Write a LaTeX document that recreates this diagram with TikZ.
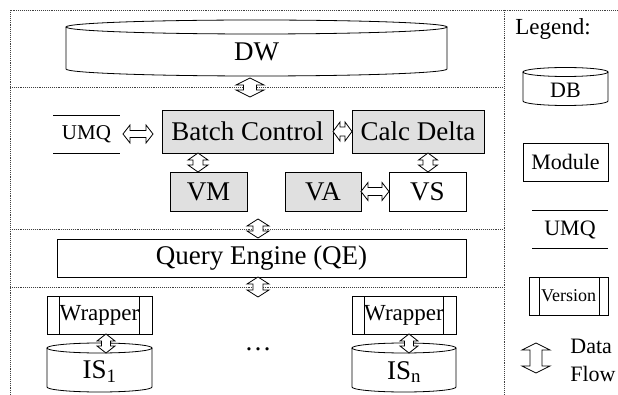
\documentclass[tikz,border=0pt]{standalone}
\usepackage{fontspec}
\setmainfont{Liberation Serif}
\usetikzlibrary{calc}
% hollow double-headed data-flow arrow from #1 to #2, head half-width #3, shaft half-width #4
\newcommand\dflow[4]{%
  \draw[fill=white,line join=miter]
   (#1) -- ($(#1)!7pt!(#2)!#3!90:(#2)$) -- ($(#1)!7pt!(#2)!#4!90:(#2)$)
   -- ($(#2)!7pt!(#1)!#4!-90:(#1)$) -- ($(#2)!7pt!(#1)!#3!-90:(#1)$)
   -- (#2) -- ($(#2)!7pt!(#1)!#3!90:(#1)$) -- ($(#2)!7pt!(#1)!#4!90:(#1)$)
   -- ($(#1)!7pt!(#2)!#4!-90:(#2)$) -- ($(#1)!7pt!(#2)!#3!-90:(#2)$) -- cycle;}
% cylinder: x1, x2, y of top ellipse centre, y of bottom ellipse centre, ry
\newcommand\cylshape[5]{%
  \draw[fill=white] (#1,#3) -- (#1,#4) arc[start angle=180,end angle=0,x radius={(#2-#1)/2},y radius=#5] -- (#2,#3);
  \draw ({(#1+#2)/2},#3) ellipse[x radius={(#2-#1)/2}, y radius=#5];}
\begin{document}
\begin{tikzpicture}[x=1pt,y=-1pt,line width=0.8pt,
  every node/.style={inner sep=0pt,outer sep=0pt},
  big/.style={font=\fontsize{27}{29}\selectfont},
  mid/.style={font=\fontsize{23}{26}\selectfont},
  leg/.style={font=\fontsize{22}{28}\selectfont},
  box/.style={draw,fill=white},
  shaded/.style={draw,fill=black!12},
  frame/.style={densely dotted,line width=0.9pt,black!75}]
\useasboundingbox (0,0) rectangle (618,395);

% frame and layer separators
\draw[frame] (10,395) -- (10,10) -- (618,10);
\draw[frame] (504,10) -- (504,395);
\draw[frame] (10,87) -- (504,87);
\draw[frame] (10,229) -- (504,229);
\draw[frame] (10,287) -- (504,287);

% DW
\cylshape{66}{447}{27}{69}{7}
\node[big] (dw) at (256.5,52) {DW};

% Batch control layer
\node[shaded,big,minimum width=171pt,minimum height=43pt] (bc) at (247.5,131.5) {Batch Control};
\node[shaded,big,minimum width=132pt,minimum height=43pt] (cd) at (418,131.5) {Calc Delta};
\node[shaded,big,minimum width=77pt,minimum height=39pt] (vm) at (208.5,191.5) {VM};
\node[shaded,big,minimum width=76pt,minimum height=39pt] (va) at (323,191.5) {VA};
\node[box,big,minimum width=77pt,minimum height=39pt] (vs) at (427.5,191.5) {VS};
\node[font=\fontsize{21}{24}\selectfont] (umq) at (86.5,134) {UMQ};
\draw (53,115) -- (120,115);
\draw (53,153) -- (120,153);

% Query engine
\node[box,big,minimum width=409pt,minimum height=38pt] (qe) at (261.5,258) {Query Engine (QE)};

% Wrappers and sources
\node[box,mid,minimum width=105pt,minimum height=38pt] (wl) at (99.5,315) {Wrapper};
\draw ([xshift=12pt]wl.north west) -- ([xshift=12pt]wl.south west);
\draw ([xshift=-13pt]wl.north east) -- ([xshift=-13pt]wl.south east);
\node[box,mid,minimum width=104pt,minimum height=38pt] (wr) at (404,315) {Wrapper};
\draw ([xshift=12pt]wr.north west) -- ([xshift=12pt]wr.south west);
\draw ([xshift=-13pt]wr.north east) -- ([xshift=-13pt]wr.south east);
\cylshape{47}{152}{348}{387}{5}
\node[big] (is1) at (99.5,372) {IS\textsubscript{1}};
\cylshape{352}{456}{348}{387}{5}
\node[big] (isn) at (404,372) {IS\textsubscript{n}};
\node[big] (dots) at (258,349) {\dots};

% data flows
\dflow{250,78}{250,97}{14pt}{6.5pt}
\dflow{123,134}{153,134}{9pt}{3.5pt}
\dflow{bc.east}{cd.west}{9.5pt}{4.5pt}
\dflow{198,153}{198,172}{10pt}{5pt}
\dflow{428,153}{428,172}{9.5pt}{5pt}
\dflow{va.east}{vs.west}{9pt}{4pt}
\dflow{258,219}{258,238}{11pt}{5pt}
\dflow{258,277}{258,297}{11pt}{5pt}
\dflow{106,334}{106,353}{9pt}{4.5pt}
\dflow{409,334}{409,353}{9pt}{4.5pt}

% legend
\node[font=\fontsize{23}{26}\selectfont] (legend) at (553,29) {Legend:};
\cylshape{523}{608}{72}{101}{4.5}
\node[leg] (db) at (565.5,90) {DB};
\node[box,leg,minimum width=85pt,minimum height=38pt] (module) at (565.5,162) {Module};
\node[leg] (lumq) at (570,230) {UMQ};
\draw (532,210) -- (608,210);
\draw (532,248) -- (608,248);
\node[box,font=\fontsize{18}{20}\selectfont,minimum width=79pt,minimum height=38pt] (ver) at (568.5,296) {Version};
\draw ([xshift=10pt]ver.north west) -- ([xshift=10pt]ver.south west);
\draw ([xshift=-9pt]ver.north east) -- ([xshift=-9pt]ver.south east);
\dflow{536,343}{536,373}{14pt}{6pt}
\node[leg,align=left] (df) at (593,360) {Data\\Flow};
\end{tikzpicture}
\end{document}
